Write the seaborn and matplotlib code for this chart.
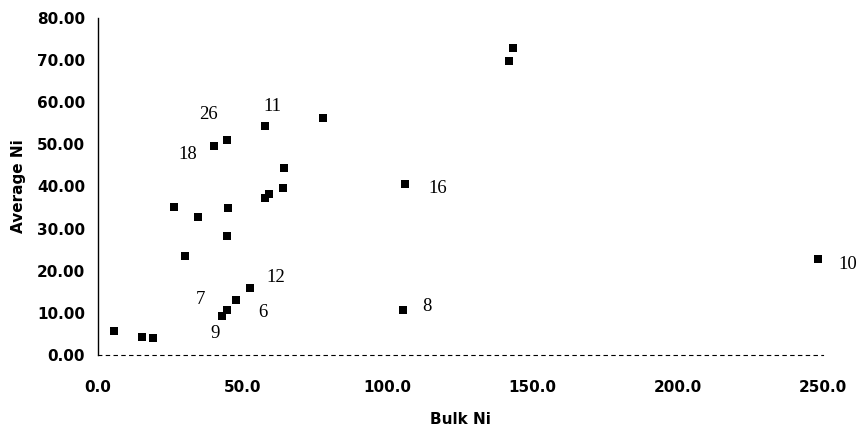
import pandas as pd
import matplotlib.pyplot as plt
import seaborn as sns

# Values
bulk_ni = [5.7, 15.3, 19.1, 26.3, 34.6, 30.1, 44.9, 44.6, 40.1, 44.6,
           57.7, 64.2, 63.9, 59.1, 57.7, 77.7, 105.9, 105.2, 143.1, 141.7,
           248.4, 52.5, 47.7, 44.6, 42.9]
avg_ni = [5.7, 4.3, 4.0, 35.1, 32.8, 23.5, 34.9, 28.2, 49.6, 51.0,
          54.4, 44.4, 39.6, 38.2, 37.3, 56.3, 40.6, 10.7, 72.9, 69.8,
          22.8, 15.9, 13.1, 10.7, 9.3]

# sample numbers written next to some of the points
tag_text = ['26', '11', '18', '16', '12', '7', '6', '9', '8', '10']
tag_x = [38.1, 60.1, 31.2, 117.3, 61.5, 35.3, 57.0, 40.5, 113.5, 258.4]
tag_y = [57.0, 59.1, 47.7, 39.6, 18.5, 13.1, 10.0, 5.2, 11.6, 21.4]

x_ticks = [0, 50, 100, 150, 200, 250]
y_ticks = [0, 10, 20, 30, 40, 50, 60, 70, 80]

df = pd.DataFrame({'Bulk Ni': bulk_ni, 'Average Ni': avg_ni})

sns.set_style('white')
plt.rcParams['font.family'] = ['DejaVu Sans']
plt.rcParams['text.color'] = 'black'
plt.rcParams['axes.labelcolor'] = 'black'
plt.rcParams['xtick.color'] = 'black'
plt.rcParams['ytick.color'] = 'black'

fig = plt.figure(figsize=(8.61, 4.33), dpi=100)
ax = fig.add_axes([97.5 / 861, 1 - 355 / 433, (823 - 97.5) / 861, (355 - 18) / 433])

sns.scatterplot(data=df, x='Bulk Ni', y='Average Ni', marker='s', s=30,
                color='black', edgecolor='black', linewidth=0, ax=ax, clip_on=False)

for t, x, y in zip(tag_text, tag_x, tag_y):
    ax.text(x, y, t, ha='center', va='center', fontsize=13.5,
            family='Liberation Serif', color='black')

ax.set_xlim(0, 250)
ax.set_ylim(0, 80)
ax.set_xticks(x_ticks)
ax.set_yticks(y_ticks)
ax.set_xticklabels([f'{v:.1f}' for v in x_ticks], fontsize=11, fontweight='bold')
ax.set_yticklabels([f'{v:.2f}' for v in y_ticks], fontsize=11, fontweight='bold')
ax.tick_params(axis='x', length=3, width=0.8, colors='black', pad=18, direction='in')
ax.tick_params(axis='y', length=0, colors='black', pad=9)
ax.set_xlabel('Bulk Ni', fontsize=11, fontweight='bold', labelpad=12, color='black')
ax.set_ylabel('Average Ni', fontsize=11, fontweight='bold', labelpad=8, color='black')

for side in ['top', 'right']:
    ax.spines[side].set_visible(False)
ax.spines['left'].set_color('black')
ax.spines['left'].set_linewidth(1.0)
ax.spines['bottom'].set_color('black')
ax.spines['bottom'].set_linewidth(0.8)
ax.spines['bottom'].set_linestyle((0, (3, 4)))
ax.grid(False)

fig.savefig('out.png', dpi=100)
